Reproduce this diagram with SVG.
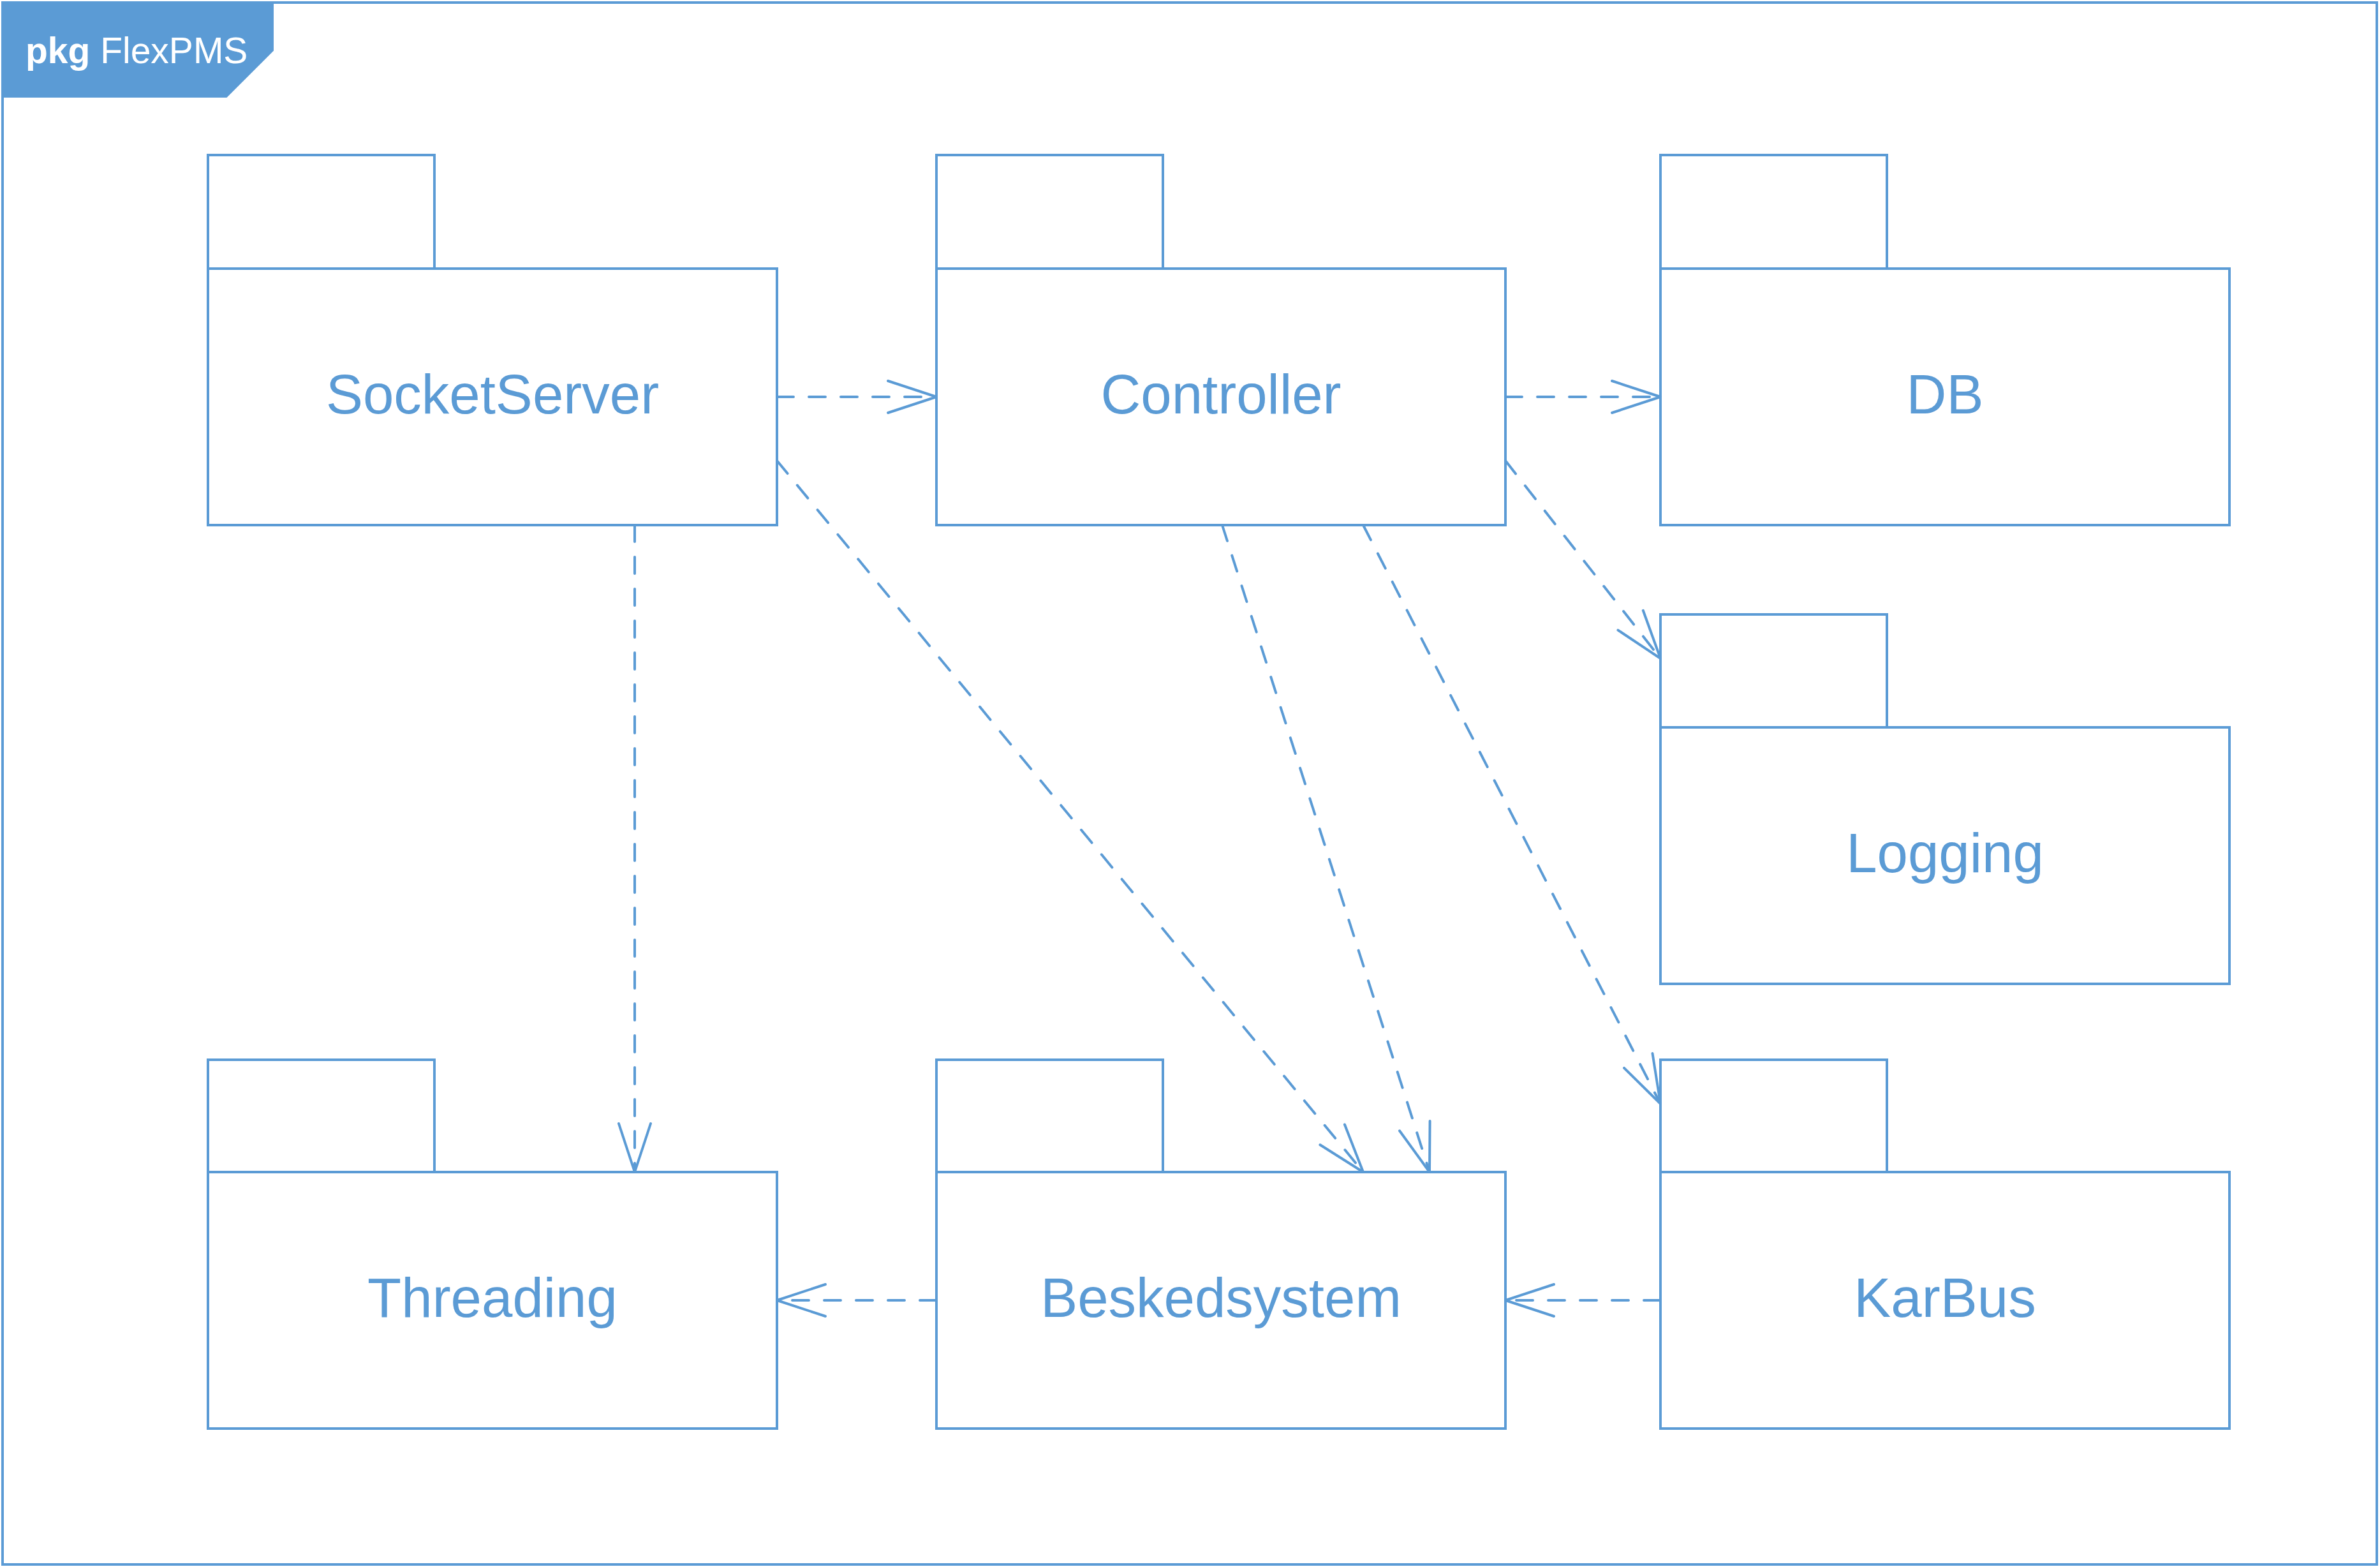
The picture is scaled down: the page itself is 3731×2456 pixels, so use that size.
<svg xmlns="http://www.w3.org/2000/svg" width="3731" height="2456" viewBox="0 0 3731 2456">
<style>
.pk{fill:#fff;stroke:#5B9BD5;stroke-width:4;stroke-linejoin:miter}
.lbl{font-family:"Liberation Sans",Arial,sans-serif;font-size:87px;fill:#5B9BD5;text-anchor:middle}
.dep{fill:none;stroke:#5B9BD5;stroke-width:4;stroke-dasharray:26 24;stroke-linecap:round;marker-end:url(#open)}
.hdr{font-family:"Liberation Sans",Arial,sans-serif;font-size:57px;fill:#fff}
</style>
<defs>
<marker id="open" viewBox="-84 -32 90 64" markerWidth="90" markerHeight="64" refX="0" refY="0" orient="auto" markerUnits="userSpaceOnUse" overflow="visible">
<path d="M-76,-25 L0,0 L-76,25" fill="none" stroke="#5B9BD5" stroke-width="4" stroke-linecap="round" stroke-linejoin="round"/>
</marker>
</defs>
<rect width="3731" height="2456" fill="#fff"/>
<g id="frame">
<rect x="4" y="4" width="3722" height="2448" fill="none" stroke="#5B9BD5" stroke-width="4"/>
<polygon points="4,4 428,4 428,79 355,152 4,152" fill="#5B9BD5" stroke="#5B9BD5" stroke-width="2"/>
<text class="hdr" x="40" y="99"><tspan font-weight="bold">pkg</tspan> FlexPMS</text>
</g>
<g id="SocketServer">
<rect class="pk" x="326" y="243" width="355" height="178"/>
<rect class="pk" x="326" y="421" width="892" height="402"/>
<text class="lbl" x="772" y="648">SocketServer</text>
</g>
<g id="Controller">
<rect class="pk" x="1468" y="243" width="355" height="178"/>
<rect class="pk" x="1468" y="421" width="892" height="402"/>
<text class="lbl" x="1914" y="648">Controller</text>
</g>
<g id="DB">
<rect class="pk" x="2603" y="243" width="355" height="178"/>
<rect class="pk" x="2603" y="421" width="892" height="402"/>
<text class="lbl" x="3049" y="648">DB</text>
</g>
<g id="Logging">
<rect class="pk" x="2603" y="963" width="355" height="177"/>
<rect class="pk" x="2603" y="1140" width="892" height="402"/>
<text class="lbl" x="3049" y="1367">Logging</text>
</g>
<g id="Threading">
<rect class="pk" x="326" y="1661" width="355" height="176"/>
<rect class="pk" x="326" y="1837" width="892" height="402"/>
<text class="lbl" x="772" y="2064">Threading</text>
</g>
<g id="Beskedsystem">
<rect class="pk" x="1468" y="1661" width="355" height="176"/>
<rect class="pk" x="1468" y="1837" width="892" height="402"/>
<text class="lbl" x="1914" y="2064">Beskedsystem</text>
</g>
<g id="KarBus">
<rect class="pk" x="2603" y="1661" width="355" height="176"/>
<rect class="pk" x="2603" y="1837" width="892" height="402"/>
<text class="lbl" x="3049" y="2064">KarBus</text>
</g>
<g id="connectors">
<line class="dep" x1="1218" y1="622" x2="1468" y2="622"/>
<line class="dep" x1="2360" y1="622" x2="2603" y2="622"/>
<line class="dep" x1="2360" y1="722" x2="2603" y2="1032"/>
<line class="dep" x1="995" y1="823" x2="995" y2="1837"/>
<line class="dep" x1="1218" y1="722" x2="2137" y2="1837"/>
<line class="dep" x1="1916" y1="823" x2="2241" y2="1837"/>
<line class="dep" x1="2137" y1="823" x2="2603" y2="1730"/>
<line class="dep" x1="1468" y1="2038" x2="1218" y2="2038"/>
<line class="dep" x1="2603" y1="2038" x2="2360" y2="2038"/>
</g>
</svg>
